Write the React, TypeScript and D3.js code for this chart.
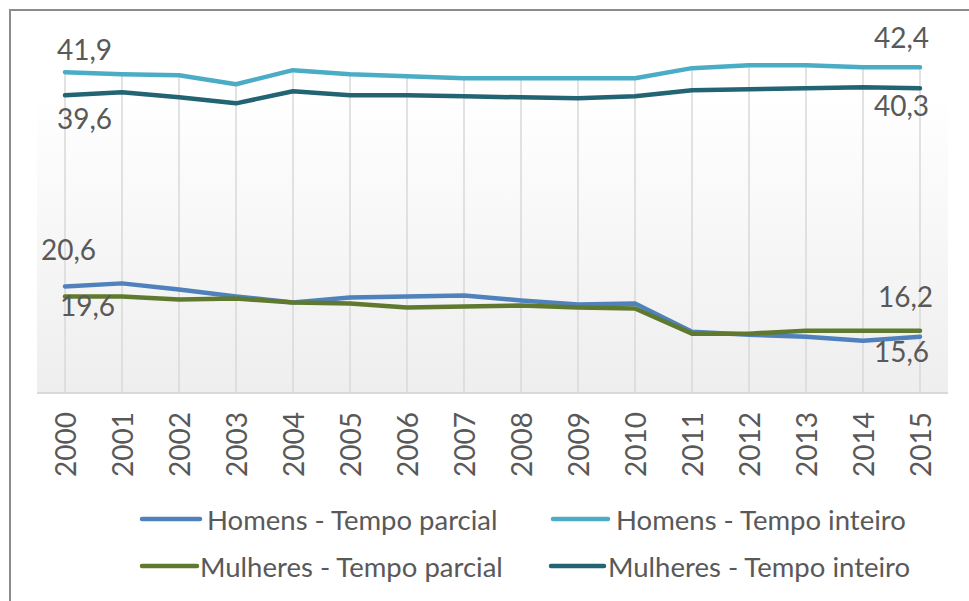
import * as d3 from "d3";
import { useEffect, useRef } from "react";

const years = ["2000","2001","2002","2003","2004","2005","2006","2007","2008","2009","2010","2011","2012","2013","2014","2015"];
const homensParcial = [20.6, 20.9, 20.3, 19.6, 19.0, 19.5, 19.6, 19.7, 19.2, 18.8, 18.9, 16.1, 15.8, 15.6, 15.2, 15.6];
const homensInteiro = [41.9, 41.7, 41.6, 40.7, 42.1, 41.7, 41.5, 41.3, 41.3, 41.3, 41.3, 42.3, 42.6, 42.6, 42.4, 42.4];
const mulheresParcial = [19.6, 19.6, 19.3, 19.4, 19.0, 18.9, 18.5, 18.6, 18.7, 18.5, 18.4, 15.9, 15.9, 16.2, 16.2, 16.2];
const mulheresInteiro = [39.6, 39.9, 39.4, 38.8, 40.0, 39.6, 39.6, 39.5, 39.4, 39.3, 39.5, 40.1, 40.2, 40.3, 40.4, 40.3];

const seriesNames = ["Homens - Tempo parcial", "Homens - Tempo inteiro", "Mulheres - Tempo parcial", "Mulheres - Tempo inteiro"];
const seriesColors = ["#4f81bd", "#4bacc6", "#5f7a2e", "#226473"];

const W = 969;
const H = 601;
const FONT = "Lato, 'Open Sans', sans-serif";

export default function App() {
  const svgRef = useRef<SVGSVGElement>(null);

  useEffect(() => {
    const svg = d3.select(svgRef.current);
    svg.selectAll("*").remove();

    const x = d3.scalePoint().domain(years).range([65, 920]);
    const y = d3.scaleLinear().domain([10, 45]).range([393, 41]);
    const fmt = (v: number) => d3.format(".1f")(v).replace(".", ",");

    const series = [homensParcial, homensInteiro, mulheresParcial, mulheresInteiro];

    // gradient for plot area
    const grad = svg.append("defs").append("linearGradient")
      .attr("id", "bg").attr("x1", 0).attr("y1", 0).attr("x2", 0).attr("y2", 1);
    grad.append("stop").attr("offset", "0%").attr("stop-color", "#ffffff");
    grad.append("stop").attr("offset", "15%").attr("stop-color", "#ffffff");
    grad.append("stop").attr("offset", "100%").attr("stop-color", "#eeeeee");

    svg.append("rect").attr("width", W).attr("height", H).attr("fill", "#fff");

    svg.append("rect")
      .attr("x", 37).attr("y", y(45))
      .attr("width", 948 - 37).attr("height", y(10) - y(45))
      .attr("fill", "url(#bg)");

    // vertical gridlines (hidden above top series)
    svg.append("g").selectAll("line").data(years).join("line")
      .attr("x1", (d) => x(d)!).attr("x2", (d) => x(d)!)
      .attr("y1", (d, i) => y(homensInteiro[i]))
      .attr("y2", y(10))
      .attr("stroke", "#d9d9d9").attr("stroke-width", 1.5);

    // category axis line
    svg.append("line")
      .attr("x1", 37).attr("x2", 948)
      .attr("y1", y(10)).attr("y2", y(10))
      .attr("stroke", "#d9d9d9").attr("stroke-width", 2);

    // axis labels
    svg.append("g").selectAll("text").data(years).join("text")
      .attr("transform", (d) => `translate(${x(d)},412) rotate(-90)`)
      .attr("text-anchor", "end")
      .attr("dominant-baseline", "central")
      .attr("font-family", FONT).attr("font-size", 28)
      .attr("fill", "#595959")
      .text((d) => d);

    // lines
    const line = d3.line<number>()
      .x((d, i) => x(years[i])!)
      .y((d) => y(d));

    const order = [1, 3, 0, 2];
    order.forEach((k) => {
      svg.append("path")
        .datum(series[k])
        .attr("d", line)
        .attr("fill", "none")
        .attr("stroke", seriesColors[k])
        .attr("stroke-width", 4.5)
        .attr("stroke-linecap", "round")
        .attr("stroke-linejoin", "round");
    });

    // data labels at first and last points: [series, index, dx, dy]
    const labels: [number, number, number, number][] = [
      [1, 0, -8, -12], [3, 0, -8, 34], [0, 0, -24, -26], [2, 0, -5, 20],
      [1, 15, -46, -19], [3, 15, -46, 28], [2, 15, -42, -24], [0, 15, -46, 25],
    ];
    svg.append("g").selectAll("text").data(labels).join("text")
      .attr("x", (d) => x(years[d[1]])! + d[2])
      .attr("y", (d) => y(series[d[0]][d[1]]) + d[3])
      .attr("font-family", FONT).attr("font-size", 28)
      .attr("fill", "#595959")
      .text((d) => fmt(series[d[0]][d[1]]));

    // legend
    const legendPos: [number, number, number, number][] = [
      [142, 200, 207, 519],
      [553, 608, 616, 519],
      [142, 197, 200, 566],
      [551, 604, 608, 566],
    ];
    const lg = svg.append("g");
    seriesNames.forEach((name, k) => {
      const [x1, x2, tx, cy] = legendPos[k];
      lg.append("line")
        .attr("x1", x1).attr("x2", x2).attr("y1", cy).attr("y2", cy)
        .attr("stroke", seriesColors[k]).attr("stroke-width", 4.5)
        .attr("stroke-linecap", "round");
      lg.append("text")
        .attr("x", tx).attr("y", cy)
        .attr("dominant-baseline", "central")
        .attr("font-family", FONT).attr("font-size", 27.5)
        .attr("fill", "#595959")
        .text(name);
    });

    // chart border
    svg.append("rect")
      .attr("x", 10).attr("y", 10)
      .attr("width", W + 20).attr("height", H + 20)
      .attr("fill", "none")
      .attr("stroke", "#8c8c8c").attr("stroke-width", 2);
  }, []);

  return (
    <svg
      ref={svgRef}
      width={W}
      height={H}
      style={{ position: "absolute", left: 0, top: 0 }}
    />
  );
}
